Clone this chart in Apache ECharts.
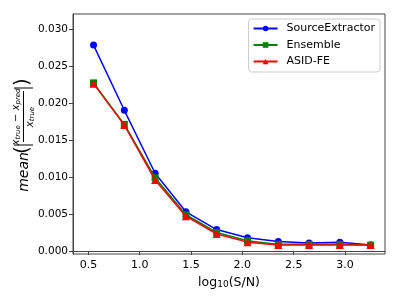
<!DOCTYPE html>
<html>
<head>
<meta charset="utf-8">
<script src="https://cdn.jsdelivr.net/npm/echarts@6/dist/echarts.min.js"></script>
<style>
html,body{margin:0;padding:0;background:#fff;}
#c{width:399px;height:299px;}
</style>
</head>
<body>
<div id="c"></div>
<script>
var xValues = [0.55, 0.85, 1.15, 1.45, 1.75, 2.05, 2.35, 2.65, 2.95, 3.25];
var sourceExtractor = [0.0278, 0.0190, 0.0105, 0.0053, 0.0029, 0.0018, 0.0013, 0.0011, 0.0012, 0.0008];
var ensemble = [0.0227, 0.0171, 0.0099, 0.0049, 0.0025, 0.0014, 0.0009, 0.0009, 0.0009, 0.0008];
var asidFE = [0.0226, 0.0170, 0.0096, 0.0047, 0.0023, 0.0012, 0.0008, 0.0008, 0.0008, 0.0008];
var xTicks = [0.5, 1.0, 1.5, 2.0, 2.5, 3.0];
var yTicks = [0.000, 0.005, 0.010, 0.015, 0.020, 0.025, 0.030];
var seriesNames = ['SourceExtractor', 'Ensemble', 'ASID-FE'];

function pairs(ys) { return xValues.map(function (x, i) { return [x, ys[i]]; }); }

var FONT = 'DejaVu Sans';
var chart = echarts.init(document.getElementById('c'), null, {renderer: 'canvas'});
var axisColor = '#444';
var subRich = {
  v: {font: 'italic 10px "DejaVu Sans"', fill: '#000', lineHeight: 12},
  s: {font: 'italic 7px "DejaVu Sans"', fill: '#000', padding: [5, 0, 0, 0], lineHeight: 9}
};

var option = {
  backgroundColor: '#fff',
  animation: false,
  grid: {left: 73, right: 14, top: 14, bottom: 45, show: true, borderColor: axisColor, borderWidth: 1, backgroundColor: 'transparent'},
  legend: {
    orient: 'vertical', right: 19, top: 19,
    backgroundColor: '#fff', borderColor: '#ccc', borderWidth: 1, borderRadius: 3,
    padding: [4, 5, 5, 4], itemGap: 5.5, itemWidth: 24, itemHeight: 7,
    textStyle: {fontFamily: FONT, fontSize: 11, color: '#000', padding: [0, 0, 0, 4]},
    data: seriesNames
  },
  xAxis: {
    type: 'value', min: 0.35, max: 3.39,
    name: 'log{sub|10}(S/N)', nameLocation: 'middle', nameGap: 14,
    nameTextStyle: {fontFamily: FONT, fontSize: 12.5, color: '#000', verticalAlign: 'top',
      rich: {sub: {fontFamily: FONT, fontSize: 9, color: '#000', padding: [5, 0, 0, 0]}}},
    axisLine: {show: true, lineStyle: {color: axisColor, width: 1}},
    axisTick: {show: true, inside: false, length: 4, lineStyle: {color: axisColor}, customValues: xTicks},
    axisLabel: {fontFamily: FONT, fontSize: 11, color: '#000', margin: 6, customValues: xTicks,
      formatter: function (v) { return v.toFixed(1); }},
    splitLine: {show: false}
  },
  yAxis: {
    type: 'value', min: -0.0004, max: 0.032,
    axisLine: {show: true, lineStyle: {color: axisColor, width: 1}},
    axisTick: {show: true, inside: false, length: 4, lineStyle: {color: axisColor}, customValues: yTicks},
    axisLabel: {fontFamily: FONT, fontSize: 10.5, color: '#000', margin: 5, customValues: yTicks,
      formatter: function (v) { return v.toFixed(3); }},
    splitLine: {show: false}
  },
  series: [
    {name: seriesNames[0], type: 'line', data: pairs(sourceExtractor), symbol: 'circle', symbolSize: 7,
      lineStyle: {color: '#0000ff', width: 1.5}, itemStyle: {color: '#0000ff'}, z: 2},
    {name: seriesNames[1], type: 'line', data: pairs(ensemble), symbol: 'rect', symbolSize: 7,
      lineStyle: {color: '#008000', width: 1.5}, itemStyle: {color: '#008000'}, z: 3},
    {name: seriesNames[2], type: 'line', data: pairs(asidFE), symbol: 'triangle', symbolSize: 8,
      lineStyle: {color: '#ff0000', width: 1.5}, itemStyle: {color: '#ff0000'}, z: 4}
  ],
  graphic: [
    {type: 'text', x: 24, y: 172, rotation: Math.PI / 2,
      style: {text: 'mean', font: 'italic 14px "DejaVu Sans"', fill: '#000', align: 'center', verticalAlign: 'middle'}},
    {type: 'text', x: 23, y: 150, rotation: Math.PI / 2,
      style: {text: '(', font: '20px "DejaVu Sans"', fill: '#000', align: 'center', verticalAlign: 'middle'}},
    {type: 'line', shape: {x1: 14, y1: 145, x2: 33, y2: 145}, style: {stroke: '#000', lineWidth: 1}},
    {type: 'text', x: 16, y: 117, rotation: Math.PI / 2,
      style: {text: '{v|x}{s|true}{v| − x}{s|pred}', fill: '#000', align: 'center', verticalAlign: 'middle', rich: subRich}},
    {type: 'line', shape: {x1: 23.5, y1: 91, x2: 23.5, y2: 142}, style: {stroke: '#000', lineWidth: 1}},
    {type: 'text', x: 30, y: 117, rotation: Math.PI / 2,
      style: {text: '{v|x}{s|true}', fill: '#000', align: 'center', verticalAlign: 'middle', rich: subRich}},
    {type: 'line', shape: {x1: 14, y1: 88, x2: 33, y2: 88}, style: {stroke: '#000', lineWidth: 1}},
    {type: 'text', x: 23, y: 82, rotation: Math.PI / 2,
      style: {text: ')', font: '20px "DejaVu Sans"', fill: '#000', align: 'center', verticalAlign: 'middle'}}
  ]
};
chart.setOption(option);
</script>
</body>
</html>
